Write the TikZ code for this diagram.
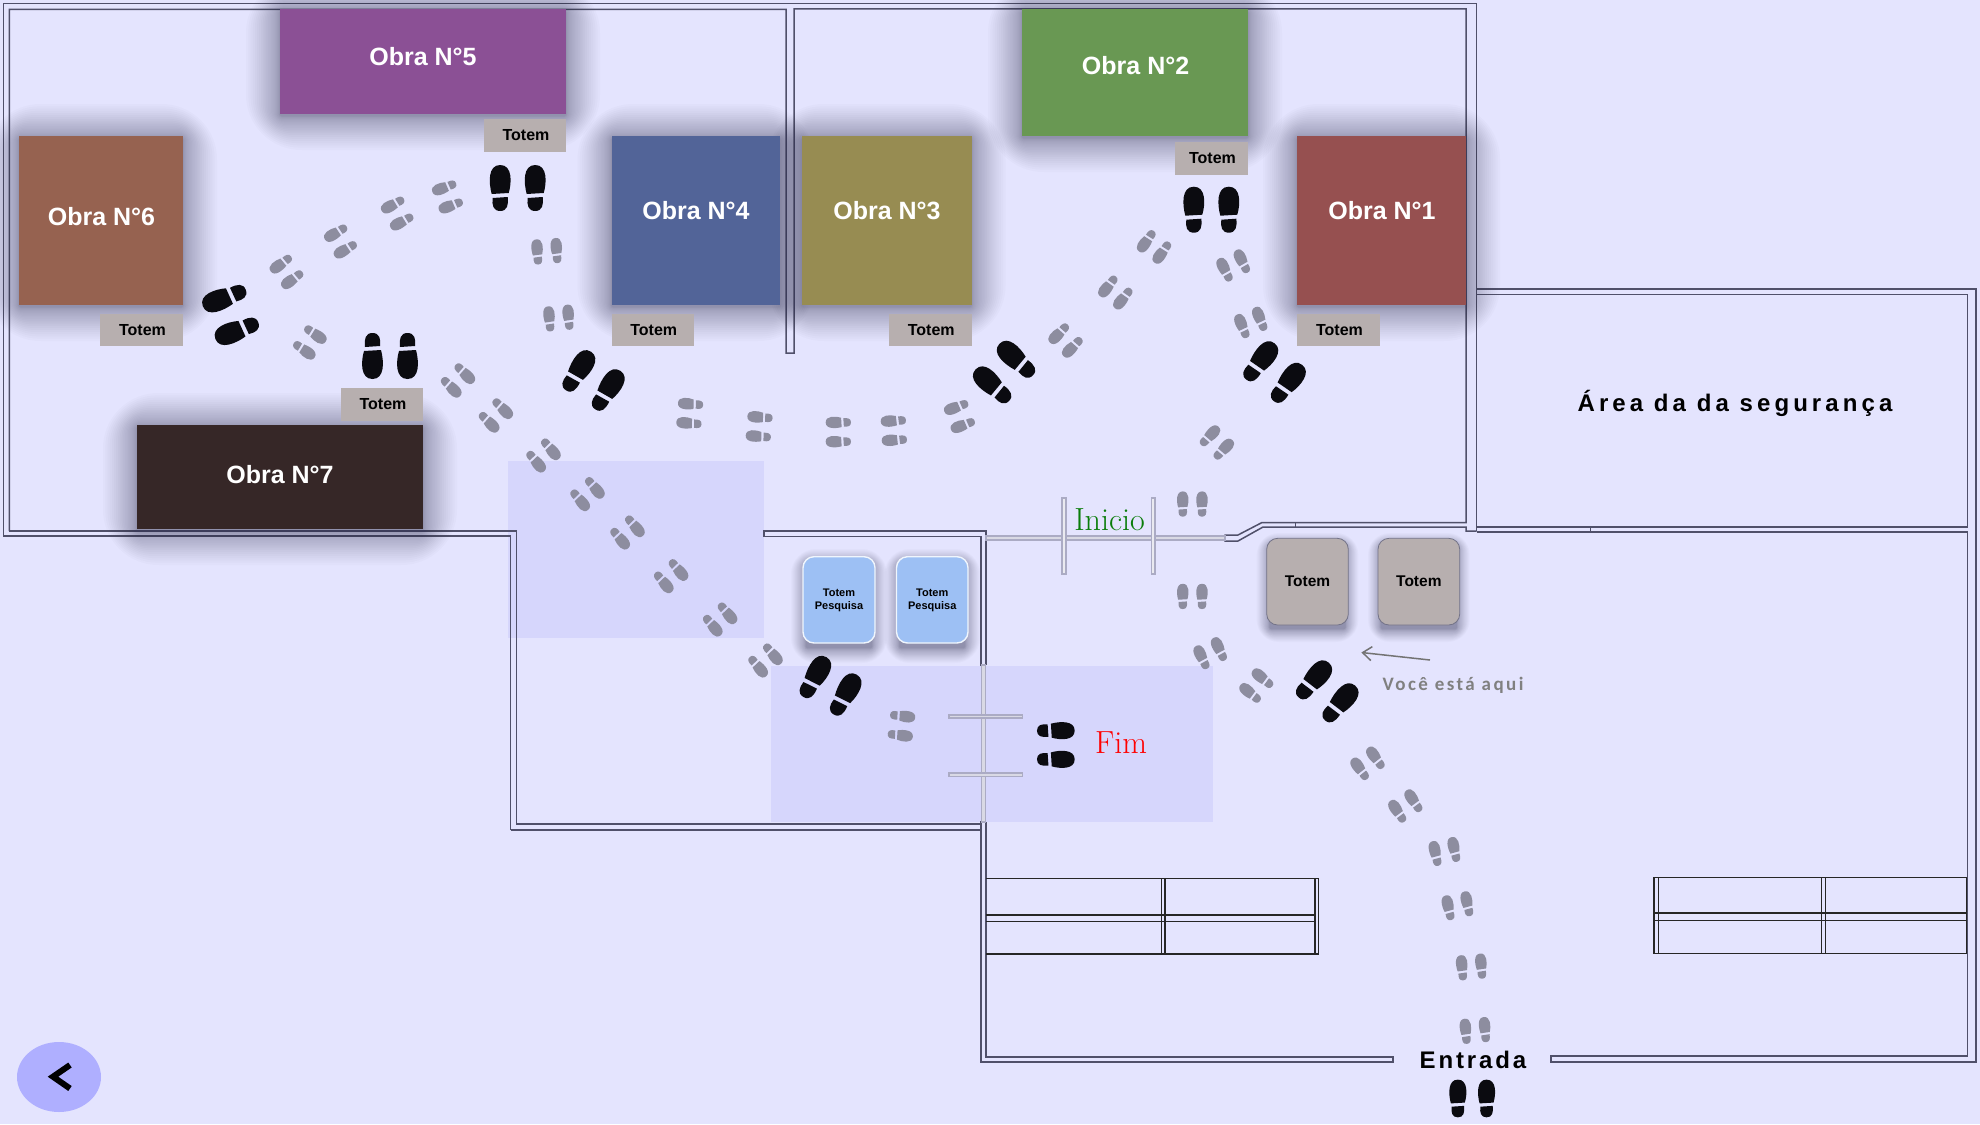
\documentclass[tikz,border=0pt]{standalone}
\usepackage{fontspec}
\setsansfont{Liberation Sans}
\newfontfamily\spacedsans[LetterSpace=17]{Liberation Sans}
\newfontfamily\entrysans[LetterSpace=12]{Liberation Sans}
\newfontfamily\herefont[LetterSpace=13]{Carlito}
\usetikzlibrary{arrows.meta, shapes.geometric}

\definecolor{floortone}{HTML}{E4E4FE}
\definecolor{zonetone}{HTML}{D6D6FC}
\definecolor{walltone}{HTML}{50506A}
\definecolor{glasstone}{HTML}{ABABC4}
\definecolor{shadowtone}{HTML}{3C3C5A}
\definecolor{totemtone}{HTML}{B7AFAF}
\definecolor{searchtone}{HTML}{9DC0F4}
\definecolor{greystep}{HTML}{8D8D9F}
\definecolor{darkstep}{HTML}{0B0B10}
\definecolor{obra1}{HTML}{965050}
\definecolor{obra2}{HTML}{699853}
\definecolor{obra3}{HTML}{978C52}
\definecolor{obra4}{HTML}{526498}
\definecolor{obra5}{HTML}{8B5095}
\definecolor{obra6}{HTML}{966250}
\definecolor{obra7}{HTML}{362727}

\tikzset{
	wallline/.style={draw=walltone, line width=1.5pt},
	benchline/.style={draw=black!85, line width=1.3pt},
	glassline/.style={draw=glasstone, fill=glasstone!45, line width=1.6pt},
	obralabel/.style={text=white, font=\sffamily\bfseries\fontsize{25}{25}\selectfont},
	totemlabel/.style={text=black, font=\sffamily\bfseries\fontsize{16}{16}\selectfont},
	searchlabel/.style={text=black, align=center, font=\sffamily\bfseries\fontsize{11}{12.7}\selectfont},
	pics/shoepair/.style={code={
		\foreach \side in {-17.5,17.5} {
			\fill[#1, xshift=\side] (-8.5,5) .. controls (-11.5,-6) and (-12.5,-24) .. (0,-24) .. controls (12.5,-24) and (11.5,-6) .. (8.5,4) -- cycle;
			\fill[#1, xshift=\side] (-7.5,9) -- (7.5,8) .. controls (8.5,16) and (7,22) .. (0,22) .. controls (-7,22) and (-8.5,16) .. (-7.5,9) -- cycle;
		}
	}}
}

\newcommand{\softshadow}[5]{
	\foreach \i in {1,...,24} {
		\pgfmathsetmacro{\r}{#5*(\i/24)^1.7}
		\pgfmathsetmacro{\rc}{\r*1.6+1}
		\fill[shadowtone, opacity=0.024, rounded corners=\rc pt] (#1-\r,#2-\r+2) rectangle (#3+\r,#4+\r+2);
	}
}
\newcommand{\obralist}{1/1297/136/1466/305/1382/211, 2/1022/9.3/1248/136/1135.6/66, 3/802/136/971.5/305/887/211, 4/611.5/136/780/305/696/211, 5/280/9.3/566/114/423/56.4, 6/19/136/183/305/101.5/217, 7/137/425/423/529/280/475}

\begin{document}
\begin{tikzpicture}[x=1pt, y=-1pt]
	\useasboundingbox (0,0) rectangle (1980,1124);
	\fill[floortone] (0,0) rectangle (1980,1124);
	\fill[zonetone] (508,461) rectangle (764,638);
	\fill[zonetone] (770.5,665.7) rectangle (1212.6,821.7);

	\draw[wallline] (510.7,830) -- (510.7,536) -- (3.5,536) -- (3.5,3.6) -- (1476.6,3.6) -- (1476.6,531);
	\draw[wallline] (9.3,531) -- (9.3,9.3) -- (786,9.3) -- (786,353) -- (794,353) -- (794,9) -- (1466,9) -- (1466,522.5) -- (1262,522.5) -- (1238,535) -- (1225,535) -- (1225,541) -- (1238,541) -- (1263,527) -- (1466,527) -- (1466,531) -- (1476.6,531);
	\draw[wallline] (9.3,531) -- (516.5,531) -- (516.5,824) -- (981,824);
	\draw[wallline] (510.7,830) -- (981,830);
	\draw[wallline] (986,665) -- (986,531) -- (764,531) -- (764,536.5) -- (981,536.5) -- (981,665) -- (986,665);
	\draw[wallline] (986,822) -- (981,822) -- (981,1062) -- (1393,1062) -- (1393,1057) -- (986,1057) -- (986,822);
	\draw[wallline] (1476.6,532) -- (1967.3,532) -- (1967.3,1056) -- (1551,1056) -- (1551,1062) -- (1976,1062) -- (1976,289) -- (1476.6,289);
	\draw[wallline] (1476.6,294.3) -- (1967.3,294.3) -- (1967.3,527) -- (1476.6,527);
	\draw[walltone, line width=1pt] (1295.7,522.5) -- (1295.7,527) (1590,527) -- (1590,532);

	\draw[glassline] (986,536) rectangle (1225,540);
	\draw[glassline] (981.5,665) rectangle (985.5,822);
	\draw[glassline, fill=glasstone!25, line width=1.2pt] (1062,498) rectangle (1066,574);
	\draw[glassline, fill=glasstone!25, line width=1.2pt] (1151.5,498) rectangle (1155,574);
	\draw[glassline, line width=1.2pt] (949,715) rectangle (1022.5,718);
	\draw[glassline, line width=1.2pt] (949,773) rectangle (1022.5,776.5);

	\draw[benchline] (986,878.4) -- (1318.5,878.4) -- (1318.5,954) -- (986,954);
	\draw[benchline] (1161.5,878.4) -- (1161.5,954) (1165,878.4) -- (1165,954) (1315,878.4) -- (1315,954);
	\draw[benchline] (986,915) -- (1315,915) (986,921.5) -- (1315,921.5);
	\draw[benchline] (1654,877.5) rectangle (1966.5,953.5);
	\draw[benchline] (1658.5,877.5) -- (1658.5,953.5) (1821.6,877.5) -- (1821.6,953.5) (1825.8,877.5) -- (1825.8,953.5);
	\draw[benchline] (1654,913) -- (1966.5,913) (1654,920.7) -- (1966.5,920.7);

	\foreach \num/\xa/\ya/\xb/\yb/\xt/\yt in \obralist
	{
		\softshadow{\xa}{\ya}{\xb}{\yb}{34}
	}
	\foreach \num/\xa/\ya/\xb/\yb/\xt/\yt in \obralist
	{
		\fill[fill=obra\num] (\xa,\ya) rectangle (\xb,\yb);
		\node[obralabel] (obra\num) at (\xt,\yt) {Obra N°\num};
	}

	\foreach \num/\xa/\ya/\xb/\yb in {1/1297/314/1380/346, 2/1175/142/1248/175, 3/889/314/971.5/346, 4/611.5/314/694/346, 5/484/119/566/152, 6/100/314/183/346, 7/341/388/423/421}
	{
		\fill[totemtone] (\xa,\ya) rectangle (\xb,\yb);
		\node[totemlabel] (totem\num) at ({(\xa+\xb)/2+1},{(\ya+\yb)/2}) {Totem};
	}

	\foreach \num/\xa/\xb in {1/803/875, 2/896.5/968}
	{
		\softshadow{\xa+3}{562}{\xb-3}{646}{15}
		\draw[fill=searchtone, draw=white!85!searchtone, line width=1.4pt, rounded corners=11pt] (\xa,556.7) rectangle (\xb,643);
		\node[searchlabel] (search\num) at ({(\xa+\xb)/2},600) {Totem\\Pesquisa};
	}
	\foreach \num/\xa/\xb in {1/1266.7/1348.3, 2/1378/1459.7}
	{
		\softshadow{\xa+3}{544}{\xb-3}{627}{13}
		\draw[fill=totemtone, draw=walltone!80, line width=0.8pt, rounded corners=11pt] (\xa,538.3) rectangle (\xb,625);
		\node[totemlabel, font=\sffamily\bfseries\fontsize{15.5}{15.5}\selectfont] (kiosk\num) at ({(\xa+\xb)/2},581.5) {Totem};
	}

	\foreach \x/\y/\ang in {448/196.4/110, 397.7/213/118, 341/241/120, 287/271.4/126, 309.3/342/-125, 457.5/380/-135, 495.4/415/-135, 543/455/-140, 587/493.6/-140, 627/532/-140, 670.6/575.7/-140, 719.6/619/-140, 765/660/-140, 900.9/725.7/-97, 547/251.8/4, 559/318.6/5, 690.3/413.6/85, 759.7/426.8/85, 838.9/432/90, 894.4/430.4/93, 960/416/110, 1066/340/135, 1115.8/292/141, 1154.5/246.4/144, 1233.7/266/26, 1251.3/323/22, 1216.4/443/-44, 1192.4/504.6/0, 1192.4/597/0, 1210.7/653.7/25, 1256.8/686/50, 1368/763.8/35, 1405.8/806.5/33, 1445/852/12, 1458/906.3/12, 1471.7/967.5/5, 1475.4/1031/5}
	{
		\pic[rotate=\ang, scale=0.55] at (\x,\y) {shoepair=greystep};
	}
	\foreach \x/\y/\ang/\size in {517.7/189/0/1, 231.5/314/111/1, 390/355/180/1, 592.6/381.4/-33/1, 829.6/686.7/-30/1, 1055/745/-90/0.82, 1005/373/47/1, 1211.3/210.7/0/1, 1273.6/373/-38/1, 1326.3/692.3/-41/1, 1472.2/1099.3/0/0.82}
	{
		\pic[rotate=\ang, scale=\size] at (\x,\y) {shoepair=darkstep};
	}

	\node[text=black, font=\spacedsans\bfseries\fontsize{24}{24}\selectfont] (seguranca) at (1735,403.6) {Área da da segurança};
	\node[text=black, font=\entrysans\bfseries\fontsize{24}{24}\selectfont] (entrada) at (1473,1060) {Entrada};
	\node[text=black!50, font=\herefont\bfseries\fontsize{19}{19}\selectfont] (aqui) at (1453,685) {Você está aqui};
	\node[text={rgb,255:red,10;green,125;blue,10}, font=\rmfamily\fontsize{32}{32}\selectfont] (inicio) at (1109.5,520) {Inicio};
	\node[text=red, font=\rmfamily\addfontfeature{LetterSpace=8}\fontsize{32}{32}\selectfont] (fim) at (1121,742.5) {Fim};

	\coordinate (aquiTail) at (1430,660);
	\coordinate (aquiHead) at (1361.4,652.5);
	\draw[-{Straight Barb[length=9pt,width=14pt]}, draw=black!55, line width=1.5pt] (aquiTail) -- (aquiHead);

	\node[fill={rgb,255:red,175;green,175;blue,255}, ellipse, minimum width=84pt, minimum height=70pt, inner sep=0pt] (voltar) at (59,1077) {};
	\draw[line width=6pt, black] (70,1065) -- (53,1076.7) -- (70,1088.5);
\end{tikzpicture}
\end{document}
